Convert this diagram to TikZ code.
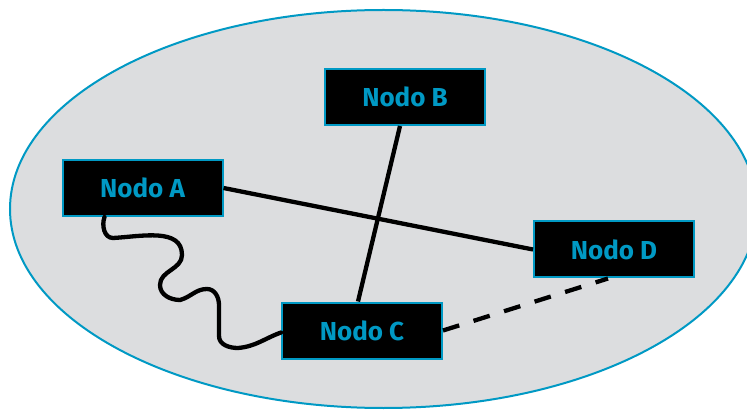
\documentclass[tikz,border=0pt]{standalone}
\usepackage{fontspec}
\setmainfont{Fira Sans}
\definecolor{netblue}{RGB}{0,153,196}
\definecolor{cloudgray}{RGB}{220,221,223}
\tikzset{
  host/.style={draw=netblue, line width=2pt, fill=black, text=netblue,
    font=\fontsize{26}{30}\selectfont\bfseries,
    minimum width=160pt, minimum height=56pt, inner sep=0pt},
  link/.style={line width=4.3pt, black},
  radiolink/.style={link, line cap=round},
  weaklink/.style={link, dash pattern=on 17pt off 15pt}
}
\begin{document}
\begin{tikzpicture}[x=1pt, y=1pt]
  \useasboundingbox (0,0) rectangle (747,410);
  \clip (0,0) rectangle (747,410);
  % network cloud
  \draw[netblue, line width=2pt, fill=cloudgray] (383.5,201) ellipse [x radius=373.5, y radius=199];

  % hosts
  \node[host] (A) at (142.5,222) {Nodo A};
  \node[host] (B) at (405,313) {Nodo B};
  \node[host] (C) at (362,79.5) {Nodo C};
  \node[host] (D) at (614,160.5) {Nodo D};

  % wired links
  \draw[link] (A.east) -- (D.west);
  \draw[link] ([xshift=-5pt]B.south) -- ([xshift=-4pt]C.north);

  % wireless link between A and C
  \draw[radiolink] ([xshift=43pt]A.south west)
    to[out=250, in=180] (113,172)
    to[out=3, in=90] (182,155)
    to[out=270, in=90] (160,125)
    to[out=270, in=180] (180,110)
    to[out=15, in=180] (207,121)
    to[out=0, in=90] (219,105)
    -- (219,74)
    to[out=270, in=180] (238,62)
    to[out=5, in=200] ([yshift=-2pt]C.west);

  % intermittent link between C and D
  \draw[weaklink] (C.east) -- ([xshift=-6pt]D.south);
\end{tikzpicture}
\end{document}
